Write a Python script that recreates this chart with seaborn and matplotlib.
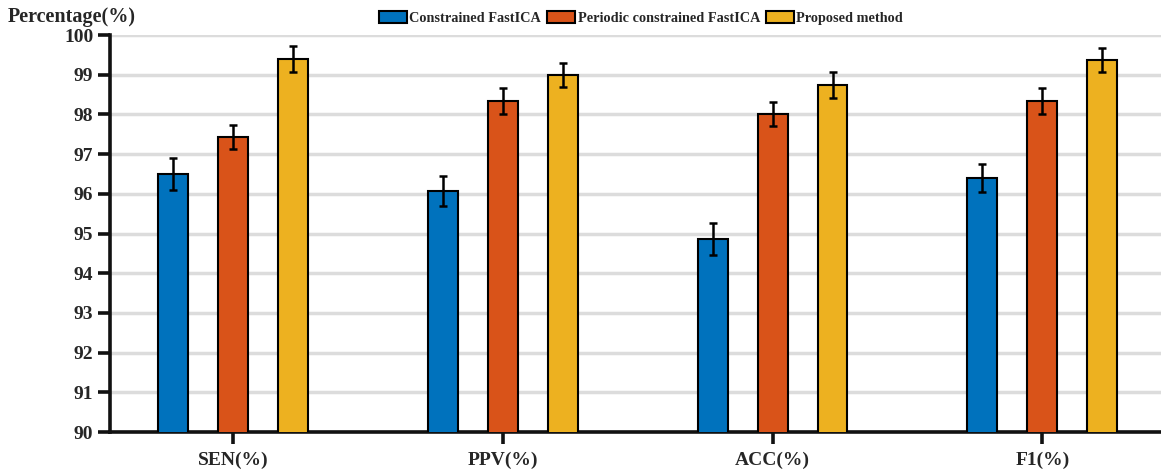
import matplotlib
matplotlib.use("Agg")
import matplotlib.pyplot as plt
import seaborn as sns
import pandas as pd
import numpy as np

# Metrics and methods
metrics = ["SEN(%)", "PPV(%)", "ACC(%)", "F1(%)"]
methods = ["Constrained FastICA", "Periodic constrained FastICA", "Proposed method"]

# Mean scores per method (one value per metric)
cfica_mean = [96.50, 96.07, 94.86, 96.40]
pcfica_mean = [97.43, 98.34, 98.01, 98.34]
proposed_mean = [99.40, 99.00, 98.74, 99.37]

# Standard deviations per method
cfica_std = [0.40, 0.37, 0.40, 0.35]
pcfica_std = [0.30, 0.32, 0.30, 0.33]
proposed_std = [0.33, 0.30, 0.32, 0.30]

yticks = [90, 91, 92, 93, 94, 95, 96, 97, 98, 99, 100]
colors = ["#0072BD", "#D95319", "#EDB120"]

means = [cfica_mean, pcfica_mean, proposed_mean]
stds = [cfica_std, pcfica_std, proposed_std]
df = pd.DataFrame({
    "metric": np.repeat([metrics], 3, axis=0).ravel(),
    "method": np.repeat(methods, len(metrics)),
    "value": np.concatenate(means),
    "std": np.concatenate(stds),
})

sns.set_style("white")
plt.rcParams["font.family"] = ["Liberation Serif", "DejaVu Serif"]
plt.rcParams["font.weight"] = "bold"

fig = plt.figure(figsize=(11.61, 4.72), dpi=100)
ax = fig.add_axes([0.0947, 0.0847, 0.9053, 0.8410])

sns.barplot(data=df, x="metric", y="value", hue="method", order=metrics,
            hue_order=methods, palette=colors, saturation=1, width=0.667, gap=0.5,
            edgecolor="black", linewidth=1.5, errorbar=None, ax=ax, zorder=3)

# Error bars at the centre of each bar
for container, m_std in zip(ax.containers, stds):
    xs = [p.get_x() + p.get_width() / 2 for p in container.patches]
    hs = [p.get_height() for p in container.patches]
    ax.errorbar(xs, hs, yerr=m_std, fmt="none", ecolor="black",
                elinewidth=1.8, capsize=3, capthick=1.8, zorder=4)

ax.set_ylim(90, 100)
ax.set_xlim(-0.456, 3.44)
ax.set_yticks(yticks)
ax.set_yticklabels([str(t) for t in yticks], fontsize=14, fontweight="bold")
ax.set_xticks(range(len(metrics)))
ax.set_xticklabels(metrics, fontsize=14, fontweight="bold")
ax.set_xlabel("")
ax.set_ylabel("")

ax.yaxis.grid(True, color="#dcdcdc", linewidth=2.5, zorder=0)
ax.set_axisbelow(True)

for s in ["top", "right"]:
    ax.spines[s].set_visible(False)
for s in ["left", "bottom"]:
    ax.spines[s].set_linewidth(2.6)
    ax.spines[s].set_color("#111111")

ax.tick_params(axis="y", left=True, direction="out", length=9, width=2.6, pad=3, color="#111111")
ax.tick_params(axis="x", bottom=True, direction="out", length=8.5, width=2.6, pad=6, color="#111111")

fig.text(0.007, 0.965, "Percentage(%)", fontsize=14.5, fontweight="bold",
         ha="left", va="center")

handles, labels = ax.get_legend_handles_labels()
ax.legend(handles, labels, loc="center", bbox_to_anchor=(0.552, 0.962),
          bbox_transform=fig.transFigure, ncol=3, frameon=False,
          prop={"size": 10.3, "weight": "bold"}, handlelength=2.0,
          handleheight=0.9, handletextpad=0.15, columnspacing=0.4)

fig.savefig("out.png", dpi=100)
